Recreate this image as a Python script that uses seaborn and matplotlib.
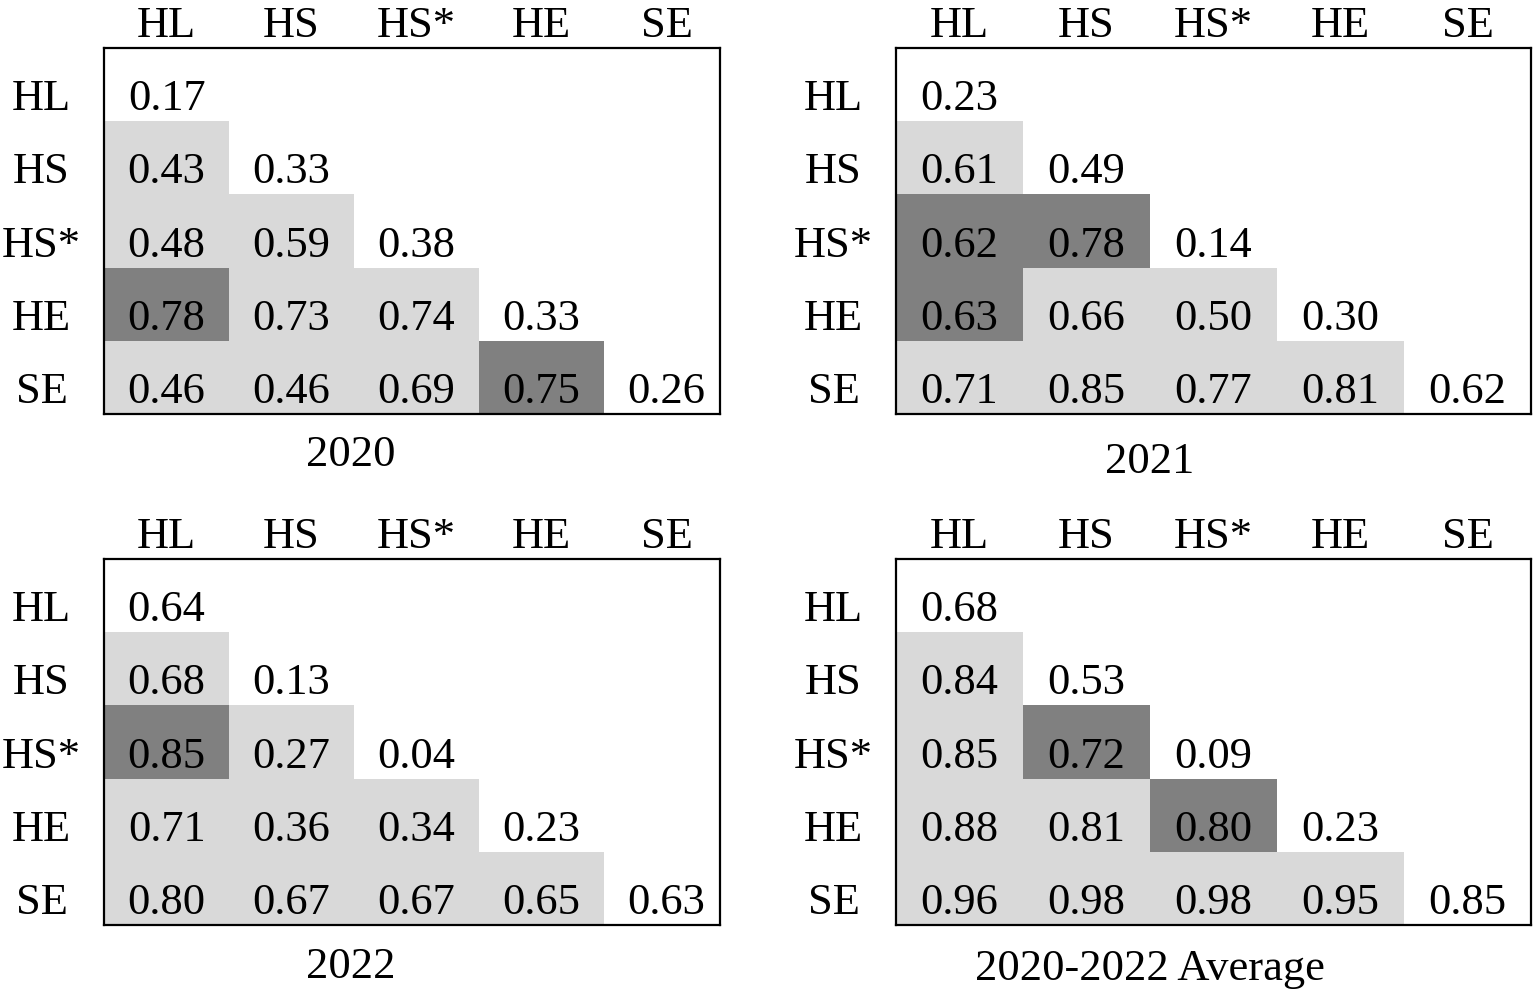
"""Four lower-triangle matrices (2020, 2021, 2022, average) drawn with seaborn heatmaps."""

import matplotlib
matplotlib.use('Agg')
import matplotlib.pyplot as plt
import seaborn as sns
import numpy as np
from matplotlib.colors import ListedColormap

labels = ["HL", "HS", "HS*", "HE", "SE"]

# lower triangle, row by row (diagonal is the last value of each row)
vals_2020 = [[0.17],
             [0.43, 0.33],
             [0.48, 0.59, 0.38],
             [0.78, 0.73, 0.74, 0.33],
             [0.46, 0.46, 0.69, 0.75, 0.26]]
vals_2021 = [[0.23],
             [0.61, 0.49],
             [0.62, 0.78, 0.14],
             [0.63, 0.66, 0.50, 0.30],
             [0.71, 0.85, 0.77, 0.81, 0.62]]
vals_2022 = [[0.64],
             [0.68, 0.13],
             [0.85, 0.27, 0.04],
             [0.71, 0.36, 0.34, 0.23],
             [0.80, 0.67, 0.67, 0.65, 0.63]]
vals_avg = [[0.68],
            [0.84, 0.53],
            [0.85, 0.72, 0.09],
            [0.88, 0.81, 0.80, 0.23],
            [0.96, 0.98, 0.98, 0.95, 0.85]]

# (row, col) cells shaded dark
dark_2020 = [(3, 0), (4, 3)]
dark_2021 = [(2, 0), (2, 1), (3, 0)]
dark_2022 = [(2, 0)]
dark_avg = [(2, 1), (3, 2)]

titles = ["2020", "2021", "2022", "2020-2022 Average"]

sns.set_theme(style="white")
plt.rcParams['font.family'] = ['Liberation Serif', 'DejaVu Serif']
plt.rcParams['text.color'] = 'black'
plt.rcParams['xtick.color'] = 'black'
plt.rcParams['ytick.color'] = 'black'
FS = 32

cmap = ListedColormap(["white", "#d9d9d9", "#808080"])


def to_matrix(rows):
    n = len(rows)
    m = np.full((n, n), np.nan)
    for i, r in enumerate(rows):
        m[i, :len(r)] = r
    return m


def shade_codes(n, dark):
    c = np.zeros((n, n))
    c[np.tril_indices(n, -1)] = 1
    for i, j in dark:
        c[i, j] = 2
    return c


fig = plt.figure(figsize=(15.35, 10), dpi=100)
positions = [[0.0678, 0.586, 0.4013, 0.366],
             [0.5837, 0.586, 0.4137, 0.366],
             [0.0678, 0.075, 0.4013, 0.366],
             [0.5837, 0.075, 0.4137, 0.366]]
title_off = [0.142, 0.161, 0.145, 0.150]
xmax = [4.928, 5, 4.928, 5]   # left panels: last column a bit narrower

panels = [(vals_2020, dark_2020), (vals_2021, dark_2021),
          (vals_2022, dark_2022), (vals_avg, dark_avg)]

for k, (vals, dark) in enumerate(panels):
    ax = fig.add_axes(positions[k])
    m = to_matrix(vals)
    n = len(labels)
    codes = shade_codes(n, dark)
    mask = np.isnan(m)
    sns.heatmap(codes, mask=mask, annot=m, fmt=".2f", cmap=cmap, vmin=-0.5, vmax=2.5,
                cbar=False, ax=ax, square=False,
                annot_kws={'color': 'black', 'fontsize': FS, 'va': 'baseline'})
    # push numbers down to sit like the reference
    for t in ax.texts:
        x, y = t.get_position()
        t.set_position((x, y + 0.35))

    ax.set_xlim(0, xmax[k])
    ax.set_xticks(np.arange(n) + 0.5, labels)
    ax.set_yticks(np.arange(n) + 0.85, labels)
    ax.tick_params(axis='x', top=True, labeltop=True, bottom=False, labelbottom=False,
                   length=0, pad=8, labelsize=FS)
    ax.tick_params(axis='y', length=0, pad=45, labelsize=FS, rotation=0)
    for lbl in ax.get_xticklabels():
        lbl.set_va('baseline')
    for lbl in ax.get_yticklabels():
        lbl.set_va('baseline')
        lbl.set_ha('center')

    for s in ax.spines.values():
        s.set_visible(True)
        s.set_color('black')
        s.set_linewidth(1.6)

    ax.text(0.40, -title_off[k], titles[k], transform=ax.transAxes,
            ha='center', va='baseline', fontsize=FS, color='black')

fig.savefig("out.png", dpi=100)
